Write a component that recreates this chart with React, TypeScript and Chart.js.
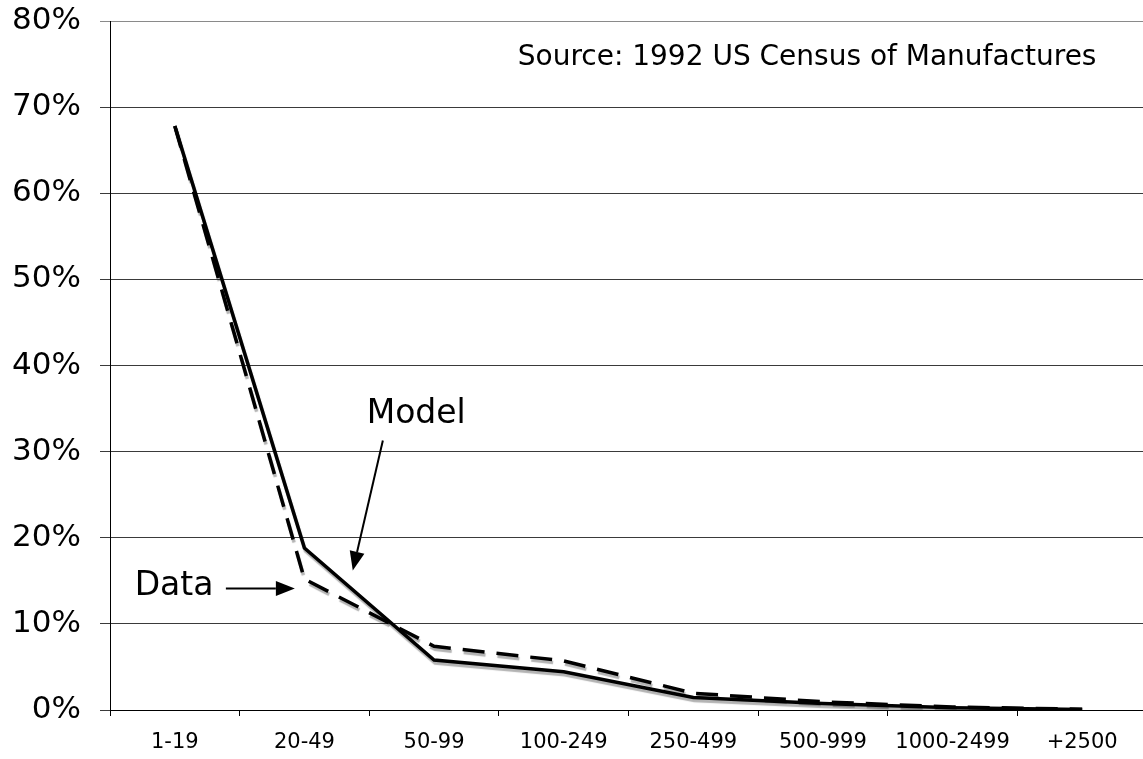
import React, { useEffect, useRef } from "react";
import { Chart, registerables } from "chart.js";

Chart.register(...registerables);

const categories = ["1-19", "20-49", "50-99", "100-249", "250-499", "500-999", "1000-2499", "+2500"];
const modelValues = [67.8, 18.8, 5.8, 4.45, 1.45, 0.75, 0.27, 0.05];
const dataValues = [67.8, 15.2, 7.4, 5.7, 1.95, 0.95, 0.35, 0.08];
const sourceText = "Source: 1992 US Census of Manufactures";
const FONT = "'DejaVu Sans', Verdana, sans-serif";

const shadowPlugin = {
  id: "lineShadow",
  beforeDatasetDraw(chart: any) {
    const ctx = chart.ctx;
    ctx.save();
    ctx.shadowColor = "rgba(0,0,0,0.3)";
    ctx.shadowOffsetX = 1;
    ctx.shadowOffsetY = 3;
    ctx.shadowBlur = 1;
  },
  afterDatasetDraw(chart: any) {
    chart.ctx.restore();
  },
};

function arrow(ctx: CanvasRenderingContext2D, x1: number, y1: number, x2: number, y2: number) {
  const ang = Math.atan2(y2 - y1, x2 - x1);
  const len = 19;
  const hw = 7.5;
  const bx = x2 - len * Math.cos(ang);
  const by = y2 - len * Math.sin(ang);
  ctx.beginPath();
  ctx.moveTo(x1, y1);
  ctx.lineTo(bx, by);
  ctx.lineWidth = 2;
  ctx.strokeStyle = "#000";
  ctx.stroke();
  ctx.beginPath();
  ctx.moveTo(x2, y2);
  ctx.lineTo(bx + hw * Math.sin(ang), by - hw * Math.cos(ang));
  ctx.lineTo(bx - hw * Math.sin(ang), by + hw * Math.cos(ang));
  ctx.closePath();
  ctx.fillStyle = "#000";
  ctx.fill();
}

const annotationPlugin = {
  id: "annotations",
  afterDraw(chart: any) {
    const ctx = chart.ctx;
    const xs = chart.scales.x;
    const ys = chart.scales.y;
    const px = (v: number) => xs.getPixelForValue(v);
    const py = (v: number) => ys.getPixelForValue(v);
    ctx.save();
    ctx.fillStyle = "#000";
    ctx.textBaseline = "alphabetic";
    ctx.font = `28px ${FONT}`;
    ctx.textAlign = "right";
    ctx.fillText(sourceText, px(7.11), py(74.9));
    ctx.font = `33px ${FONT}`;
    ctx.textAlign = "left";
    ctx.fillText("Model", px(1.48), py(33.3));
    ctx.fillText("Data", px(-0.31), py(13.3));
    arrow(ctx, px(1.605), py(31.3), px(1.373), py(16.2));
    arrow(ctx, px(0.394), py(14.1), px(0.926), py(14.1));
    ctx.restore();
  },
};

export default function App() {
  const ref = useRef<HTMLCanvasElement | null>(null);
  useEffect(() => {
    if (!ref.current) return;
    const chart = new Chart(ref.current, {
      type: "line",
      data: {
        labels: categories,
        datasets: [
          {
            label: "Data",
            data: dataValues,
            borderColor: "#000",
            borderWidth: 3.5,
            borderDash: [22, 12],
            pointRadius: 0,
            tension: 0,
            fill: false,
          },
          {
            label: "Model",
            data: modelValues,
            borderColor: "#000",
            borderWidth: 3.5,
            pointRadius: 0,
            tension: 0,
            fill: false,
          },
        ],
      },
      options: {
        responsive: false,
        animation: false,
        devicePixelRatio: 1,
        layout: { padding: { top: 21, right: 3, left: 0, bottom: 0 } },
        plugins: { legend: { display: false }, tooltip: { enabled: false } },
        scales: {
          x: {
            type: "category",
            offset: true,
            afterFit: (s: any) => {
              s.height = 49;
              s.paddingLeft = 0;
              s.paddingRight = 0;
            },
            grid: {
              offset: true,
              drawOnChartArea: false,
              drawTicks: true,
              tickLength: 6,
              color: "#000",
            },
            border: { color: "#000", width: 1 },
            ticks: {
              color: "#000",
              font: { family: FONT, size: 21 },
              padding: 14,
              maxRotation: 0,
              autoSkip: false,
            },
          },
          y: {
            min: 0,
            max: 80,
            afterFit: (s: any) => {
              s.width = 110;
              s.paddingTop = 0;
              s.paddingBottom = 0;
            },
            grid: {
              color: (c: any) => (c.tick && c.tick.value === 80 ? "#8a8a8a" : "#3a3a3a"),
              tickLength: 10,
              lineWidth: 1,
            },
            border: { color: "#000", width: 1 },
            ticks: {
              stepSize: 10,
              color: "#000",
              font: { family: FONT, size: 31 },
              padding: 19,
              callback: (v: any) => `${v}%`,
            },
          },
        },
      },
      plugins: [shadowPlugin, annotationPlugin],
    });
    return () => chart.destroy();
  }, []);
  return (
    <div
      style={{
        position: "fixed",
        left: 0,
        top: 0,
        width: 1143,
        height: 759,
        overflow: "hidden",
        background: "#fff",
      }}
    >
      <canvas ref={ref} width={1150} height={759} style={{ display: "block" }} />
    </div>
  );
}
